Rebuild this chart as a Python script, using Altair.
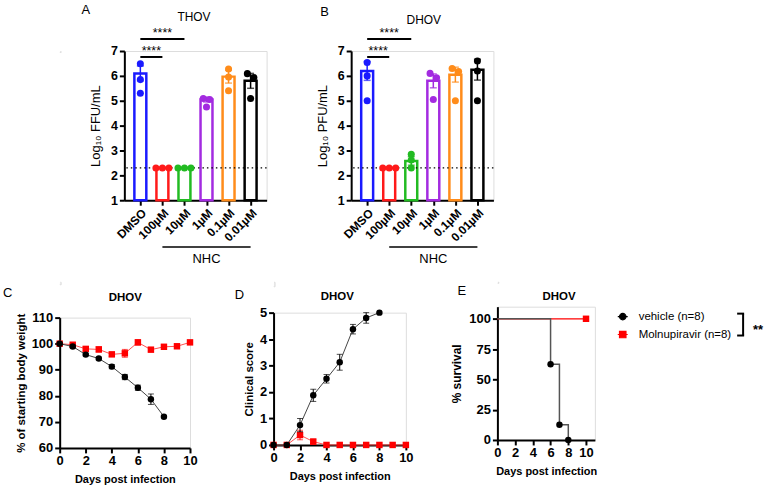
import altair as alt
import pandas as pd

FONT = "Liberation Sans"

# ---------------- Panels A / B : titers ----------------
conc_labels = ["DMSO", "100µM", "10µM", "1µM", "0.1µM", "0.01µM"]
bar_colors = ["#1a1aff", "#ff1a1a", "#22bb22", "#a32be0", "#ff8c1a", "#000000"]

thov_mean = [6.10, 2.30, 2.30, 5.05, 5.97, 5.80]
thov_sem = [0.30, 0.0, 0.0, 0.10, 0.26, 0.30]
thov_points = [[6.49, 5.85, 5.30], [2.30, 2.30, 2.30], [2.30, 2.30, 2.30],
               [5.09, 5.05, 4.75], [6.28, 5.95, 5.40], [6.09, 5.93, 5.09]]

dhov_mean = [6.20, 2.30, 2.58, 5.80, 6.05, 6.25]
dhov_sem = [0.38, 0.0, 0.17, 0.28, 0.30, 0.42]
dhov_points = [[6.54, 6.00, 5.00], [2.30, 2.30, 2.30], [2.85, 2.62, 2.30],
               [6.10, 5.92, 5.05], [6.30, 6.18, 5.00], [6.60, 6.20, 5.00]]

detection_limit = 2.3

# ---------------- Panels C / D / E : mice ----------------
days = list(range(11))
weight_vehicle = [100.0, 98.9, 95.8, 94.3, 91.2, 87.2, 83.1, 78.7, 72.0]
weight_vehicle_sem = [0.3, 0.5, 0.5, 0.5, 0.8, 1.0, 1.0, 2.0, 0.4]
weight_molnu = [100.0, 99.6, 98.0, 97.8, 95.9, 96.3, 100.5, 97.7, 98.8, 99.0, 100.5]
weight_molnu_sem = [0.3, 0.5, 0.8, 1.0, 0.8, 1.5, 1.0, 0.6, 0.9, 0.8, 0.8]

score_vehicle = [0.0, 0.0, 0.75, 1.875, 2.5, 3.125, 4.375, 4.8, 5.0]
score_vehicle_sem = [0.0, 0.0, 0.25, 0.23, 0.16, 0.30, 0.18, 0.20, 0.0]
score_molnu = [0.0, 0.0, 0.375, 0.125, 0.0, 0.0, 0.0, 0.0, 0.0, 0.0, 0.0]
score_molnu_sem = [0.0, 0.0, 0.18, 0.10, 0.0, 0.0, 0.0, 0.0, 0.0, 0.0, 0.0]

surv_vehicle_day = [0, 6, 7, 8]
surv_vehicle = [100.0, 62.5, 12.5, 0.0]
surv_molnu_day = [0, 10]
surv_molnu = [100.0, 100.0]

groups = ["vehicle (n=8)", "Molnupiravir (n=8)"]
group_colors = ["#000000", "#ff0000"]


def axis(**kw):
    base = dict(domainColor="black", domainWidth=2, tickColor="black", tickWidth=2,
                tickSize=5, labelFont=FONT, labelFontSize=12.5, labelFontWeight="bold",
                labelColor="black", titleFont=FONT, titleColor="black", grid=False,
                labelPadding=2, labelOverlap=False, labelBound=False, labelFlush=False)
    base.update(kw)
    return alt.Axis(**base)


def note(text, x, y, size=13, weight="normal", align="left"):
    return alt.Chart(pd.DataFrame({"t": [text]})).mark_text(
        font=FONT, fontSize=size, fontWeight=weight, align=align,
        baseline="alphabetic", color="black").encode(
        x=alt.value(x), y=alt.value(y), text="t:N")


def spacer(h):
    return alt.Chart(pd.DataFrame({"k": [0]})).mark_rule(color="white", strokeWidth=1).encode(
        x=alt.value(0), y=alt.value(0), y2=alt.value(h)).properties(width=1, height=h)


def spread(vals, tol=0.22, step=7.0):
    order = sorted(range(len(vals)), key=lambda i: -vals[i])
    offs = [0.0] * len(vals)
    clusters = []
    for i in order:
        if clusters and abs(vals[clusters[-1][-1]] - vals[i]) < tol:
            clusters[-1].append(i)
        else:
            clusters.append([i])
    for c in clusters:
        k = len(c)
        for j, i in enumerate(c):
            offs[i] = (j - (k - 1) / 2) * step
    return offs


def titer_panel(means, sems, points, ytitle, letter, letter_xy, virus, virus_xy):
    W, H = 143, 150
    n = len(conc_labels)
    step = W / n
    idx = list(range(n))
    bars = pd.DataFrame({"i": idx, "conc": conc_labels, "mean": means,
                         "lo": [m - s for m, s in zip(means, sems)],
                         "hi": [m + s for m, s in zip(means, sems)], "sem": sems})
    rows = []
    for i, c, vals in zip(idx, conc_labels, points):
        for v, o in zip(vals, spread(vals)):
            rows.append({"i": i + o / step, "conc": c, "value": v})
    pts = pd.DataFrame(rows)

    label_expr = "[" + ",".join("'%s'" % c for c in conc_labels) + "][datum.value]"
    xs = alt.Scale(domain=[-0.5, n - 0.5], nice=False, zero=False)
    x_ax = axis(title=None, values=idx, labelExpr=label_expr, labelAngle=-45, labelFontSize=12)
    x = alt.X("i:Q", scale=xs, axis=x_ax)
    ys = alt.Scale(domain=[1, 7], nice=False, zero=False)
    y_ax = axis(title=ytitle, values=list(range(1, 8)), titleFontSize=13,
                titleFontWeight="normal", titlePadding=8)
    color = alt.Color("conc:N", scale=alt.Scale(domain=conc_labels, range=bar_colors),
                      legend=None)

    def X(f="i"):
        return alt.X(f + ":Q", scale=xs, axis=x_ax)

    def Y(f):
        return alt.Y(f + ":Q", scale=ys, axis=y_ax)

    bar = alt.Chart(bars).mark_bar(filled=False, strokeWidth=2.5, size=12).encode(
        x=X(), y=Y("mean"), y2=alt.datum(1), color=color)
    eb = bars[bars["sem"] > 0]
    err = alt.Chart(eb).mark_rule(strokeWidth=1.5).encode(
        x=X(), y=Y("lo"), y2="hi:Q", color=color)
    caps_df = pd.concat([eb.assign(v=eb["lo"]), eb.assign(v=eb["hi"])])
    caps = alt.Chart(caps_df).mark_tick(orient="horizontal", size=7, thickness=1.5).encode(
        x=X(), y=Y("v"), color=color)
    dots = alt.Chart(pts).mark_circle(size=50, opacity=1).encode(
        x=X(), y=Y("value"), color=color)
    dotted = alt.Chart(pd.DataFrame({"v": [detection_limit]})).mark_rule(
        color="black", strokeDash=[1.5, 3], strokeWidth=1.3).encode(y=Y("v"))

    sig = pd.DataFrame({"a": [0, 0], "b": [2, 1], "y": [7.48, 6.76],
                        "t": ["****", "****"]})
    sig["mid"] = (sig["a"] + sig["b"]) / 2
    sig["ty"] = sig["y"] + 0.08
    sig_rule = alt.Chart(sig).mark_rule(color="black", strokeWidth=2).encode(
        x=X("a"), x2="b:Q", y=Y("y"))
    sig_text = alt.Chart(sig).mark_text(font=FONT, fontSize=12.5, color="black",
                                        baseline="alphabetic").encode(
        x=X("mid"), y=Y("ty"), text="t:N")

    grp = pd.DataFrame({"a": [1], "b": [n - 1], "y": [-0.88], "ty": [-1.52],
                        "mid": [(1 + n - 1) / 2], "t": ["NHC"]})
    grp_rule = alt.Chart(grp).mark_rule(color="black", strokeWidth=1.5).encode(
        x=X("a"), x2="b:Q", y=Y("y"))
    grp_text = alt.Chart(grp).mark_text(font=FONT, fontSize=13, color="black",
                                        baseline="alphabetic").encode(
        x=X("mid"), y=Y("ty"), text="t:N")

    return alt.layer(
        bar, dotted, err, caps, dots, sig_rule, sig_text, grp_rule, grp_text,
        note(letter, *letter_xy), note(virus, *virus_xy, size=12, align="center"),
    ).properties(width=W, height=H)


def mouse_series(dvals, vals, sems, X, Y, color, linecolor, shape):
    df = pd.DataFrame({"day": dvals[:len(vals)], "v": vals,
                       "lo": [a - b for a, b in zip(vals, sems)],
                       "hi": [a + b for a, b in zip(vals, sems)], "sem": sems})
    eb = df[df["sem"] > 0]
    caps_df = pd.concat([eb.assign(c=eb["lo"]), eb.assign(c=eb["hi"])])
    line = alt.Chart(df).mark_line(color=linecolor, strokeWidth=1).encode(x=X("day"), y=Y("v"))
    err = alt.Chart(eb).mark_rule(color=color, strokeWidth=1).encode(
        x=X("day"), y=Y("lo"), y2="hi:Q")
    caps = alt.Chart(caps_df).mark_tick(orient="horizontal", size=6, thickness=1,
                                        color=color).encode(x=X("day"), y=Y("c"))
    pts = alt.Chart(df).mark_point(filled=True, shape=shape, size=42, color=color,
                                   opacity=1).encode(x=X("day"), y=Y("v"))
    return [line, err, caps, pts]


def make_x(domain, values):
    sc = alt.Scale(domain=domain, nice=False, zero=False)
    ax = axis(title="Days post infection", values=values, titleFontSize=11,
              titleFontWeight="bold", titlePadding=6, labelFontSize=13)
    return lambda f: alt.X(f + ":Q", scale=sc, axis=ax)


def make_y(domain, values, title, tsize):
    sc = alt.Scale(domain=domain, nice=False, zero=False)
    ax = axis(title=title, values=values, titleFontSize=tsize, titleFontWeight="bold",
              titlePadding=5, labelFontSize=13)
    return lambda f: alt.Y(f + ":Q", scale=sc, axis=ax)


# Panel C
Xc = make_x([0, 10], [0, 2, 4, 6, 8, 10])
Yc = make_y([60, 110], list(range(60, 111, 10)), "% of starting body weight", 11.5)
panel_c = alt.layer(
    *mouse_series(days, weight_molnu, weight_molnu_sem, Xc, Yc, "#ff0000", "#ff5050", "square"),
    *mouse_series(days, weight_vehicle, weight_vehicle_sem, Xc, Yc, "#000000", "#444444", "circle"),
    note("C", -57, -21), note("DHOV", 66, -17, size=11.5, weight="bold", align="center"),
).properties(width=131, height=131)

# Panel D
Xd = make_x([0, 10], [0, 2, 4, 6, 8, 10])
Yd = make_y([0, 5], list(range(0, 6)), "Clinical score", 11.5)
panel_d = alt.layer(
    *mouse_series(days, score_molnu, score_molnu_sem, Xd, Yd, "#ff0000", "#ff5050", "square"),
    *mouse_series(days, score_vehicle, score_vehicle_sem, Xd, Yd, "#000000", "#444444", "circle"),
    note("D", -39, -14), note("DHOV", 64, -13, size=11.5, weight="bold", align="center"),
).properties(width=133, height=133)

# Panel E
Xe = make_x([0, 11], [0, 2, 4, 6, 8, 10])
Ye = make_y([0, 110], [0, 25, 50, 75, 100], "% survival", 12)
e_veh = pd.DataFrame({"day": surv_vehicle_day, "s": surv_vehicle})
e_mol = pd.DataFrame({"day": surv_molnu_day, "s": surv_molnu})
line_mol = alt.Chart(e_mol).mark_line(interpolate="step-after", color="#ff0000",
                                      strokeWidth=1.2).encode(x=Xe("day"), y=Ye("s"))
line_veh = alt.Chart(e_veh).mark_line(interpolate="step-after", color="#555555",
                                      strokeWidth=1.5).encode(x=Xe("day"), y=Ye("s"))
pts_veh = alt.Chart(e_veh[e_veh["day"] > 0]).mark_point(
    filled=True, shape="circle", size=42, color="#000000", opacity=1).encode(x=Xe("day"), y=Ye("s"))
pts_mol = alt.Chart(e_mol[e_mol["day"] > 0]).mark_point(
    filled=True, shape="square", size=42, color="#ff0000", opacity=1).encode(x=Xe("day"), y=Ye("s"))

path_circle = "M-1,0L1,0M0.65,0A0.65,0.65,0,1,1,-0.65,0A0.65,0.65,0,1,1,0.65,0Z"
path_square = "M-1,0L1,0M-0.65,-0.65L0.65,-0.65L0.65,0.65L-0.65,0.65Z"
leg = alt.Legend(title=None, orient="none", legendX=120, legendY=4, labelFont=FONT,
                 labelFontSize=11.5, labelColor="black", symbolSize=100,
                 symbolStrokeWidth=1.2, labelOffset=10, rowPadding=6, padding=0)
carrier = alt.Chart(pd.DataFrame({"group": groups})).transform_filter("false").mark_point(
    filled=True, opacity=1).encode(
    fill=alt.Fill("group:N", scale=alt.Scale(domain=groups, range=group_colors), legend=leg),
    stroke=alt.Stroke("group:N", scale=alt.Scale(domain=groups, range=group_colors), legend=leg),
    shape=alt.Shape("group:N", scale=alt.Scale(domain=groups, range=[path_circle, path_square]),
                    legend=leg),
    x=alt.value(0), y=alt.value(0))

bracket = alt.Chart(pd.DataFrame({"k": [0]})).mark_rule(color="black", strokeWidth=2).encode(
    x=alt.value(247), x2=alt.value(247), y=alt.value(7), y2=alt.value(29))
bracket_top = alt.Chart(pd.DataFrame({"k": [0]})).mark_rule(color="black", strokeWidth=2).encode(
    x=alt.value(241), x2=alt.value(248), y=alt.value(7))
bracket_bot = alt.Chart(pd.DataFrame({"k": [0]})).mark_rule(color="black", strokeWidth=2).encode(
    x=alt.value(241), x2=alt.value(248), y=alt.value(29))

panel_e = alt.layer(
    line_mol, line_veh, pts_veh, pts_mol, carrier, bracket, bracket_top, bracket_bot,
    note("**", 257, 27, size=13, weight="bold"),
    note("E", -40, -12), note("DHOV", 62, -7, size=11.5, weight="bold", align="center"),
).properties(width=98, height=134)

panel_a = titer_panel(thov_mean, thov_sem, thov_points, "Log₁₀ FFU/mL", "A", (-43, -37),
                      "THOV", (70, -30))
panel_b = titer_panel(dhov_mean, dhov_sem, dhov_points, "Log₁₀ PFU/mL", "B", (-31, -35),
                      "DHOV", (73, -27))

IND = dict(fill="independent", stroke="independent", shape="independent")


def col(p, h):
    return alt.vconcat(spacer(h), p, spacing=0).resolve_scale(**IND).resolve_legend(**IND)


top = alt.hconcat(spacer(1), alt.hconcat(panel_a, panel_b, spacing=47), spacing=19)
bottom = alt.hconcat(col(panel_c, 2.5), col(panel_d, 4.5), col(panel_e, 1),
                     spacing=36).resolve_scale(**IND).resolve_legend(**IND)

chart = alt.vconcat(top, bottom, spacing=14).resolve_scale(**IND).resolve_legend(**IND).properties(
    padding={"left": 2, "top": 2, "right": 0, "bottom": 0}
).configure_view(stroke=None).configure(background="white").configure_axis(
    labelOverlap=False, labelBound=False, labelFlush=False)

chart.save("out.html", embed_options={"renderer": "svg", "actions": False})
